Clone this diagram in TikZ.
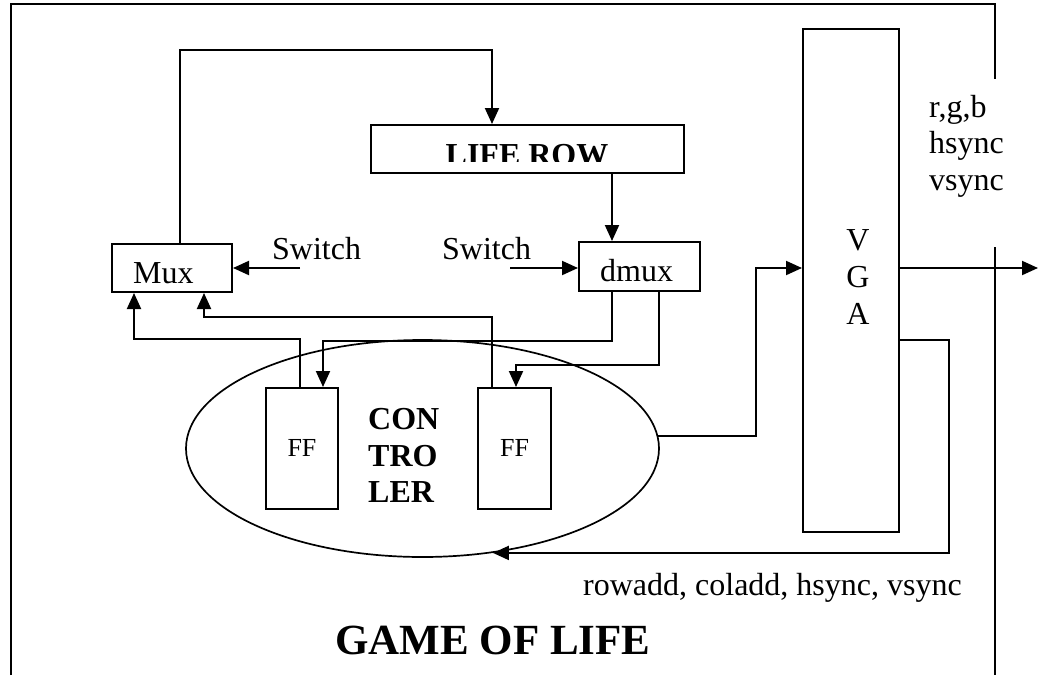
\documentclass[tikz,border=0pt]{standalone}
\usepackage{fontspec}
\setmainfont{Liberation Serif}
\usetikzlibrary{arrows.meta,shapes.geometric,calc}

\begin{document}
\begin{tikzpicture}[x=1pt,y=-1pt,
  wire/.style={line width=2pt},
  arr/.style={wire,-{Triangle[length=16pt,width=14pt]}},
  frame/.style={line width=2pt},
  box/.style={draw,line width=2pt,inner sep=0pt},
  txt/.style={inner sep=0pt,font=\fontsize{32pt}{37pt}\selectfont},
  btxt/.style={inner sep=0pt,font=\fontsize{32pt}{37pt}\selectfont\bfseries},
  ftxt/.style={inner sep=0pt,font=\fontsize{26pt}{30pt}\selectfont},
  ttxt/.style={inner sep=0pt,font=\fontsize{43pt}{48pt}\selectfont\bfseries}]

\useasboundingbox (0,0) rectangle (1039,675);

% outer frame
\draw[frame] (11,675) -- (11,4) -- (995,4) -- (995,79);
\draw[frame] (995,247) -- (995,675);

% blocks
\node[box,minimum width=313pt,minimum height=48pt] (liferow) at (527.5,149) {};
\node[box,minimum width=120pt,minimum height=48pt] (mux) at (172,268) {};
\node[box,minimum width=121pt,minimum height=49pt] (dmux) at (639.5,266.5) {};
\node[ellipse,draw,line width=1.7pt,minimum width=473pt,minimum height=217pt,inner sep=0pt] (ctrl) at (422.5,448.5) {};
\node[box,minimum width=72pt,minimum height=121pt] (ff1) at (302,448.5) {};
\node[box,minimum width=73pt,minimum height=121pt] (ff2) at (514.5,448.5) {};
\node[box,minimum width=96pt,minimum height=503pt] (vga) at (851,280.5) {};

% block labels
\begin{scope}
  \clip (372,126) rectangle (683,161);
  \node[btxt,anchor=base] (liferowtext) at (527,165) {LIFE ROW};
\end{scope}
\node[txt,anchor=base west] (muxtext) at (133,283) {Mux};
\node[txt,anchor=base west] (dmuxtext) at (600,281) {dmux};
\node[ftxt,anchor=base] (ff1text) at (302,456) {FF};
\node[ftxt,anchor=base] (ff2text) at (514.5,456) {FF};
\node[btxt,anchor=base west] (ctrla) at (368,429) {CON};
\node[btxt,anchor=base west] (ctrlb) at (368,466) {TRO};
\node[btxt,anchor=base west] (ctrlc) at (368,502) {LER};
\node[txt,anchor=base] (vgaa) at (858,250) {V};
\node[txt,anchor=base] (vgab) at (858,287) {G};
\node[txt,anchor=base] (vgac) at (858,324) {A};

% signal labels
\node[txt,anchor=base west] (swl) at (272,259) {Switch};
\node[txt,anchor=base west] (swr) at (442,259) {Switch};
\node[txt,anchor=base west] (rgb) at (929,117) {r,g,b};
\node[txt,anchor=base west] (hs) at (929,153) {hsync};
\node[txt,anchor=base west] (vs) at (929,190) {vsync};
\node[txt,anchor=base west] (addr) at (583,595) {rowadd, coladd, hsync, vsync};
\node[ttxt,anchor=base west] (title) at (335,654) {GAME OF LIFE};

% free ends
\coordinate (swlin) at (300,268);
\coordinate (swrin) at (510,268);
\coordinate (out) at (1038,268);

% connectors
\draw[arr] ([xshift=8pt]mux.north) -- ++(0,-193) -| ([xshift=-35.5pt]liferow.north);
\draw[arr] ([xshift=84.5pt]liferow.south) -- ([xshift=-27.5pt]dmux.north);
\draw[arr] (swlin) -- (swlin -| mux.east);
\draw[arr] (swrin) -- (swrin -| dmux.west);
\draw[arr] ([xshift=-2pt]ff1.north) -- ++(0,-48) -| ([xshift=-38pt]mux.south);
\draw[arr] ([xshift=-22.5pt]ff2.north) -- ++(0,-70) -| ([xshift=32pt]mux.south);
\draw[arr] ([xshift=-27.5pt]dmux.south) -- ++(0,49) -| ([xshift=21pt]ff1.north);
\draw[arr] ([xshift=19.5pt]dmux.south) -- ++(0,73) -| ([xshift=1.5pt]ff2.north);
\draw[arr] (ctrl.3) -- ++(98,0) |- ([yshift=12.5pt]vga.west);
\draw[arr] ([yshift=12.5pt]vga.east) -- (out);
\draw[arr] ([yshift=-59.5pt]vga.east) -- ++(49,0) |- (ctrl.304);

\end{tikzpicture}
\end{document}
